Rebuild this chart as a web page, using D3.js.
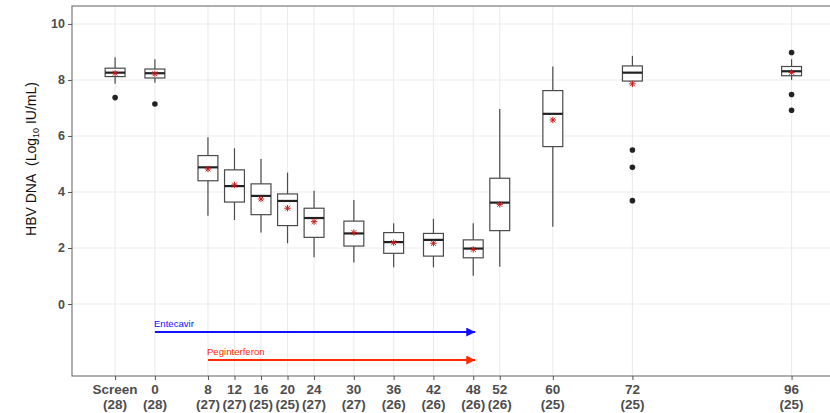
<!DOCTYPE html>
<html>
<head>
<meta charset="utf-8">
<script src="https://cdn.jsdelivr.net/npm/d3@7"></script>
<style>
  html, body { margin: 0; padding: 0; background: #fff; }
  svg { display: block; }
  text { font-family: "Liberation Sans", Arial, sans-serif; }
</style>
</head>
<body>
<svg id="chart" width="830" height="413"></svg>
<script>
// Visit week (Screen plotted at week -6) and patient counts
const weeks      = [-6, 0, 8, 12, 16, 20, 24, 30, 36, 42, 48, 52, 60, 72, 96];
const weekLabels = ["Screen", "0", "8", "12", "16", "20", "24", "30", "36", "42", "48", "52", "60", "72", "96"];
const patients   = [28, 28, 27, 27, 25, 25, 27, 27, 26, 26, 26, 26, 25, 25, 25];

// Box-plot statistics of HBV DNA (log10 IU/mL)
const whiskerLow  = [7.86, 7.90, 3.15, 3.00, 2.55, 2.17, 1.67, 1.48, 1.31, 1.31, 1.01, 1.33, 2.76, 7.95, 8.00];
const quartile1   = [8.12, 8.07, 4.40, 3.64, 3.19, 2.80, 2.38, 2.07, 1.81, 1.71, 1.65, 2.62, 5.62, 7.96, 8.15];
const medians     = [8.26, 8.24, 4.88, 4.21, 3.86, 3.68, 3.07, 2.52, 2.21, 2.29, 1.98, 3.62, 6.79, 8.26, 8.31];
const quartile3   = [8.42, 8.39, 5.30, 4.79, 4.29, 3.93, 3.42, 2.96, 2.55, 2.52, 2.29, 4.49, 7.62, 8.50, 8.48];
const whiskerHigh = [8.81, 8.74, 5.95, 5.56, 5.18, 4.69, 4.04, 3.71, 2.88, 3.04, 2.88, 6.96, 8.48, 8.86, 8.74];
const means       = [8.24, 8.22, 4.82, 4.25, 3.75, 3.42, 2.94, 2.55, 2.19, 2.17, 1.95, 3.56, 6.57, 7.86, 8.27];
const outliers    = [[7.37], [7.14], [], [], [], [], [], [], [], [], [], [], [], [5.50, 4.88, 3.69], [8.98, 7.48, 6.92]];

// Treatment periods (weeks) shown as arrows
const treatments     = ["Entecavir", "Peginterferon"];
const treatStart     = [0, 8];
const treatEnd       = [48, 48];
const treatLevel     = [-1, -2];
const treatColors    = ["#1010ff", "#ff2a00"];

const yTicks = [0, 2, 4, 6, 8, 10];

const svg = d3.select("#chart");
const panel = { left: 72, right: 838, top: 6, bottom: 376 };

const x = d3.scaleLinear().domain([-12.5, 103.0]).range([panel.left, panel.right]);
const y = d3.scaleLinear().domain([-2.57, 10.64]).range([panel.bottom, panel.top]);

// Panel background and grid
svg.append("rect")
  .attr("x", panel.left).attr("y", panel.top)
  .attr("width", panel.right - panel.left).attr("height", panel.bottom - panel.top)
  .attr("fill", "#fff");

const grid = svg.append("g").attr("stroke", "#ebebeb").attr("stroke-width", 1.1);
grid.selectAll(".hg").data(yTicks).join("line")
  .attr("x1", panel.left).attr("x2", panel.right)
  .attr("y1", d => y(d)).attr("y2", d => y(d));
grid.selectAll(".vg").data(weeks).join("line")
  .attr("y1", panel.top).attr("y2", panel.bottom)
  .attr("x1", d => x(d)).attr("x2", d => x(d));

// Treatment arrows
const defs = svg.append("defs");
treatments.forEach((t, i) => {
  defs.append("marker")
    .attr("id", "arrow" + i)
    .attr("viewBox", "0 0 10 10")
    .attr("refX", 10).attr("refY", 5)
    .attr("markerUnits", "userSpaceOnUse")
    .attr("markerWidth", 9).attr("markerHeight", 9)
    .attr("orient", "auto")
    .append("path").attr("d", "M0,0 L10,5 L0,10 Z").attr("fill", treatColors[i]);
});
const arrows = svg.append("g");
treatments.forEach((t, i) => {
  arrows.append("line")
    .attr("x1", x(treatStart[i])).attr("x2", x(treatEnd[i]) + 2)
    .attr("y1", y(treatLevel[i])).attr("y2", y(treatLevel[i]))
    .attr("stroke", treatColors[i]).attr("stroke-width", 2)
    .attr("marker-end", `url(#arrow${i})`);
  arrows.append("text")
    .attr("x", x(treatStart[i]) - 1).attr("y", y(treatLevel[i]) - 5)
    .attr("font-size", 9.6).attr("fill", treatColors[i])
    .text(t);
});

// Box plots
const boxW = x(3) - x(0);
const boxes = svg.append("g");
weeks.forEach((w, i) => {
  const cx = x(w);
  const g = boxes.append("g");
  g.append("line")
    .attr("x1", cx).attr("x2", cx)
    .attr("y1", y(whiskerHigh[i])).attr("y2", y(quartile3[i]))
    .attr("stroke", "#4a4a4a").attr("stroke-width", 1.2);
  g.append("line")
    .attr("x1", cx).attr("x2", cx)
    .attr("y1", y(quartile1[i])).attr("y2", y(whiskerLow[i]))
    .attr("stroke", "#4a4a4a").attr("stroke-width", 1.2);
  g.append("rect")
    .attr("x", cx - boxW / 2).attr("width", boxW)
    .attr("y", y(quartile3[i])).attr("height", y(quartile1[i]) - y(quartile3[i]))
    .attr("fill", "#fff").attr("stroke", "#4a4a4a").attr("stroke-width", 1.2);
  g.append("line")
    .attr("x1", cx - boxW / 2).attr("x2", cx + boxW / 2)
    .attr("y1", y(medians[i])).attr("y2", y(medians[i]))
    .attr("stroke", "#222").attr("stroke-width", 2.2);
  g.selectAll("circle").data(outliers[i]).join("circle")
    .attr("cx", cx).attr("cy", d => y(d)).attr("r", 2.8)
    .attr("fill", "#222");
  // Mean marker (asterisk)
  const my = y(means[i]), s = 3.2;
  const star = g.append("g").attr("stroke", "#c81818").attr("stroke-width", 1);
  star.append("line").attr("x1", cx - s).attr("x2", cx + s).attr("y1", my).attr("y2", my);
  star.append("line").attr("x1", cx).attr("x2", cx).attr("y1", my - s).attr("y2", my + s);
  star.append("line").attr("x1", cx - s * 0.75).attr("x2", cx + s * 0.75).attr("y1", my - s * 0.75).attr("y2", my + s * 0.75);
  star.append("line").attr("x1", cx - s * 0.75).attr("x2", cx + s * 0.75).attr("y1", my + s * 0.75).attr("y2", my - s * 0.75);
});

// Panel border
svg.append("rect")
  .attr("x", panel.left).attr("y", panel.top)
  .attr("width", panel.right - panel.left).attr("height", panel.bottom - panel.top)
  .attr("fill", "none").attr("stroke", "#7a7a7a").attr("stroke-width", 1.2);

// Y axis
const yAxis = svg.append("g").attr("transform", `translate(${panel.left},0)`)
  .call(d3.axisLeft(y).tickValues(yTicks).tickSize(4).tickPadding(3));
yAxis.select(".domain").remove();
yAxis.selectAll(".tick line").attr("stroke", "#555");
yAxis.selectAll(".tick text")
  .attr("font-size", 12.5).attr("font-weight", "bold").attr("fill", "#4d4d4d")
  .attr("font-family", "Liberation Sans, Arial, sans-serif");

// X axis with two-line labels
const xAxis = svg.append("g").attr("transform", `translate(0,${panel.bottom})`)
  .call(d3.axisBottom(x).tickValues(weeks).tickSize(4).tickFormat(""));
xAxis.select(".domain").remove();
xAxis.selectAll(".tick line").attr("stroke", "#555");
const xl = svg.append("g").attr("font-size", 13.5).attr("font-weight", "bold")
  .attr("fill", "#4d4d4d").attr("text-anchor", "middle");
weeks.forEach((w, i) => {
  xl.append("text").attr("x", x(w)).attr("y", 394).text(weekLabels[i]);
  xl.append("text").attr("x", x(w)).attr("y", 408.5).text(`(${patients[i]})`);
});

// Y axis title
const yt = svg.append("text")
  .attr("transform", "translate(36,159) rotate(-90)")
  .attr("text-anchor", "middle").attr("font-size", 14).attr("fill", "#111");
yt.append("tspan").text("HBV DNA\u00a0\u00a0(Log");
yt.append("tspan").attr("font-size", 9).attr("dy", 3).text("10");
yt.append("tspan").attr("dy", -3).text(" IU/mL)");
</script>
</body>
</html>
